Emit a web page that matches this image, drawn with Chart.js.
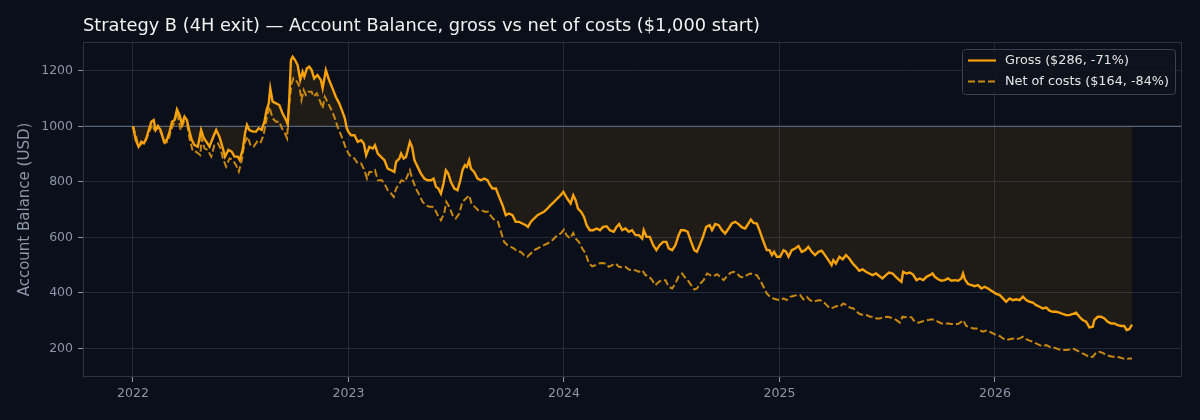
<!DOCTYPE html>
<html>
<head>
<meta charset="utf-8">
<script src="https://cdn.jsdelivr.net/npm/chart.js@4.4.1/dist/chart.umd.min.js"></script>
<style>
  html, body { margin: 0; padding: 0; background: #0b0f19; }
  #wrap { width: 1200px; height: 420px; }
</style>
</head>
<body>
<div id="wrap"><canvas id="myChart" width="1200" height="420"></canvas></div>
<script>
// values (x = decimal year)
var grossX = [2022.000,2022.013,2022.026,2022.039,2022.051,2022.062,2022.073,2022.085,2022.096,2022.105,2022.116,2022.128,2022.144,2022.157,2022.170,2022.181,2022.193,2022.204,2022.216,2022.227,2022.239,2022.250,2022.262,2022.273,2022.285,2022.301,2022.316,2022.329,2022.340,2022.355,2022.370,2022.386,2022.401,2022.417,2022.427,2022.443,2022.458,2022.471,2022.486,2022.495,2022.509,2022.520,2022.529,2022.540,2022.556,2022.571,2022.583,2022.597,2022.610,2022.620,2022.630,2022.637,2022.648,2022.664,2022.679,2022.694,2022.710,2022.718,2022.725,2022.733,2022.741,2022.752,2022.764,2022.776,2022.787,2022.795,2022.807,2022.818,2022.829,2022.841,2022.856,2022.872,2022.880,2022.895,2022.910,2022.926,2022.941,2022.957,2022.972,2022.983,2022.992,
  2023.000,2023.012,2023.028,2023.043,2023.059,2023.071,2023.082,2023.097,2023.113,2023.123,2023.136,2023.151,2023.167,2023.182,2023.198,2023.213,2023.221,2023.236,2023.244,2023.256,2023.267,2023.275,2023.285,2023.295,2023.306,2023.321,2023.336,2023.352,2023.367,2023.383,2023.395,2023.406,2023.417,2023.429,2023.441,2023.452,2023.463,2023.475,2023.491,2023.506,2023.519,2023.529,2023.540,2023.549,2023.560,2023.568,2023.583,2023.599,2023.614,2023.630,2023.645,2023.657,2023.668,2023.684,2023.699,2023.715,2023.730,2023.745,2023.761,2023.776,2023.792,2023.807,2023.823,2023.833,2023.846,2023.861,2023.877,2023.892,2023.907,2023.923,2023.938,2023.954,2023.969,2023.985,2023.997,
  2024.015,2024.031,2024.043,2024.054,2024.065,2024.080,2024.093,2024.105,2024.120,2024.136,2024.151,2024.167,2024.182,2024.198,2024.213,2024.231,2024.244,2024.256,2024.270,2024.285,2024.301,2024.316,2024.332,2024.347,2024.363,2024.370,2024.383,2024.398,2024.414,2024.429,2024.444,2024.460,2024.475,2024.486,2024.502,2024.517,2024.532,2024.543,2024.559,2024.574,2024.590,2024.605,2024.617,2024.630,2024.645,2024.660,2024.676,2024.687,2024.702,2024.718,2024.733,2024.748,2024.764,2024.779,2024.795,2024.810,2024.826,2024.841,2024.856,2024.867,2024.880,2024.895,2024.907,2024.918,2024.929,2024.941,2024.954,2024.965,2024.975,2024.988,
  2025.003,2025.019,2025.031,2025.042,2025.057,2025.073,2025.088,2025.103,2025.119,2025.134,2025.150,2025.165,2025.181,2025.196,2025.211,2025.227,2025.242,2025.250,2025.262,2025.278,2025.293,2025.309,2025.324,2025.340,2025.355,2025.370,2025.386,2025.401,2025.417,2025.432,2025.448,2025.463,2025.478,2025.494,2025.509,2025.525,2025.540,2025.556,2025.566,2025.574,2025.590,2025.605,2025.620,2025.636,2025.651,2025.667,2025.682,2025.698,2025.710,2025.721,2025.736,2025.752,2025.767,2025.782,2025.798,2025.813,2025.829,2025.844,2025.852,2025.860,2025.875,2025.891,2025.906,2025.921,2025.937,2025.952,2025.968,2025.978,2025.991,
  2026.006,2026.022,2026.037,2026.052,2026.068,2026.083,2026.099,2026.114,2026.130,2026.145,2026.160,2026.176,2026.191,2026.207,2026.222,2026.238,2026.253,2026.269,2026.284,2026.299,2026.315,2026.330,2026.346,2026.361,2026.377,2026.392,2026.407,2026.423,2026.438,2026.454,2026.461,2026.477,2026.492,2026.508,2026.523,2026.539,2026.554,2026.569,2026.585,2026.600,2026.611,2026.623,2026.636];
var grossY = [1000,950,927,945,939,957,987,1017,1023,987,1001,987,945,951,981,1017,1023,1061,1041,1008,1035,1023,981,951,933,927,987,957,945,927,957,987,963,921,891,915,909,891,891,879,915,975,1005,987,981,981,993,987,1017,1059,1083,1137,1089,1083,1077,1047,1023,1008,1095,1239,1251,1239,1221,1167,1197,1179,1209,1215,1203,1173,1185,1167,1137,1203,1167,1137,1107,1083,1053,1029,993,
  980,968,968,944,950,938,896,926,920,932,902,890,878,848,842,836,872,884,902,884,890,914,944,926,878,854,830,812,806,806,812,782,776,758,794,842,830,800,776,770,806,842,860,854,878,848,836,812,806,812,806,788,776,776,746,716,680,686,680,656,656,650,644,638,656,668,680,686,692,704,716,728,740,752,764,
  740,722,752,734,704,692,674,644,626,626,632,626,638,640,626,620,638,648,626,632,620,626,608,608,596,626,602,602,572,554,572,584,584,560,554,572,608,626,626,620,584,554,548,572,602,638,644,626,648,644,626,614,632,650,656,648,636,632,650,664,652,650,626,602,578,554,554,536,548,530,
  530,554,548,530,554,560,569,548,554,566,548,536,548,552,536,518,500,518,506,530,521,536,524,506,494,480,485,476,470,464,470,461,452,464,473,470,458,446,440,476,470,473,466,446,452,446,458,464,470,458,449,444,446,452,444,446,444,452,470,449,432,428,424,428,416,422,416,410,404,
  396,392,380,368,380,374,377,374,386,374,368,365,356,350,344,347,336,332,332,329,324,320,320,324,329,314,302,296,276,278,302,314,314,308,296,290,290,284,281,281,266,269,286];

var netX = [2022.000,2022.015,2022.026,2022.042,2022.057,2022.073,2022.088,2022.100,2022.116,2022.131,2022.147,2022.162,2022.177,2022.193,2022.205,2022.221,2022.236,2022.252,2022.262,2022.278,2022.293,2022.312,2022.319,2022.332,2022.347,2022.363,2022.378,2022.394,2022.406,2022.417,2022.432,2022.448,2022.463,2022.478,2022.491,2022.505,2022.517,2022.532,2022.545,2022.560,2022.576,2022.591,2022.606,2022.622,2022.633,2022.648,2022.664,2022.679,2022.691,2022.705,2022.715,2022.725,2022.736,2022.745,2022.761,2022.772,2022.782,2022.792,2022.802,2022.813,2022.829,2022.838,2022.853,2022.869,2022.880,2022.890,2022.906,2022.921,2022.934,2022.949,2022.965,2022.977,2022.988,
  2023.000,2023.012,2023.028,2023.043,2023.059,2023.074,2023.086,2023.097,2023.113,2023.123,2023.136,2023.154,2023.167,2023.182,2023.198,2023.210,2023.221,2023.236,2023.247,2023.262,2023.275,2023.285,2023.298,2023.313,2023.329,2023.344,2023.360,2023.375,2023.390,2023.403,2023.414,2023.429,2023.444,2023.454,2023.468,2023.483,2023.498,2023.514,2023.529,2023.545,2023.560,2023.571,2023.586,2023.602,2023.617,2023.633,2023.648,2023.664,2023.679,2023.694,2023.710,2023.722,2023.738,2023.753,2023.769,2023.784,2023.799,2023.815,2023.830,2023.846,2023.861,2023.877,2023.892,2023.907,2023.923,2023.938,2023.954,2023.969,2023.985,
  2024.000,2024.012,2024.028,2024.043,2024.054,2024.069,2024.085,2024.100,2024.116,2024.131,2024.147,2024.162,2024.177,2024.193,2024.208,2024.224,2024.239,2024.255,2024.270,2024.285,2024.301,2024.316,2024.332,2024.347,2024.363,2024.378,2024.394,2024.409,2024.424,2024.440,2024.455,2024.471,2024.486,2024.502,2024.517,2024.532,2024.548,2024.559,2024.574,2024.590,2024.605,2024.617,2024.633,2024.648,2024.664,2024.679,2024.694,2024.710,2024.725,2024.741,2024.756,2024.772,2024.787,2024.802,2024.818,2024.833,2024.849,2024.864,2024.880,2024.895,2024.910,2024.926,2024.941,2024.957,2024.972,2024.988,
  2025.003,2025.019,2025.034,2025.049,2025.065,2025.080,2025.096,2025.111,2025.127,2025.142,2025.157,2025.173,2025.188,2025.204,2025.219,2025.235,2025.250,2025.265,2025.281,2025.296,2025.312,2025.327,2025.343,2025.358,2025.373,2025.389,2025.404,2025.420,2025.435,2025.451,2025.466,2025.481,2025.497,2025.512,2025.528,2025.543,2025.559,2025.571,2025.582,2025.597,2025.613,2025.628,2025.644,2025.659,2025.674,2025.690,2025.705,2025.721,2025.736,2025.752,2025.767,2025.782,2025.798,2025.813,2025.829,2025.844,2025.852,2025.867,2025.883,2025.898,2025.914,2025.929,2025.944,2025.960,2025.975,2025.991,
  2026.006,2026.022,2026.037,2026.052,2026.068,2026.083,2026.099,2026.114,2026.130,2026.145,2026.160,2026.176,2026.191,2026.207,2026.222,2026.238,2026.253,2026.269,2026.284,2026.299,2026.315,2026.330,2026.346,2026.361,2026.377,2026.392,2026.407,2026.423,2026.438,2026.454,2026.469,2026.485,2026.500,2026.515,2026.531,2026.546,2026.562,2026.577,2026.593,2026.608,2026.623,2026.636];
var netY = [1000,963,927,939,945,975,1005,987,993,975,939,945,987,1017,1053,987,1017,1005,957,909,909,897,957,921,915,891,933,939,921,885,855,885,879,861,837,879,939,963,933,927,945,939,969,1035,1071,1029,1017,1017,993,975,957,1083,1155,1173,1161,1143,1095,1131,1113,1125,1125,1107,1119,1089,1065,1107,1083,1059,1035,999,969,945,921,
  902,890,884,866,866,842,812,836,836,842,806,806,794,770,758,746,776,794,806,800,824,842,806,776,752,728,716,710,710,698,680,662,686,728,710,680,668,686,728,740,752,722,710,698,698,692,692,674,662,656,614,584,572,566,560,548,548,536,530,542,554,560,566,572,578,584,596,608,614,
  628,608,596,616,596,584,560,542,506,496,500,506,508,506,494,500,506,494,492,494,484,482,482,476,482,464,460,446,428,440,446,446,422,416,434,460,470,458,446,428,412,416,434,446,470,464,460,467,458,446,460,472,476,470,458,456,464,470,467,464,446,422,398,386,380,376,
  374,380,374,386,389,392,392,377,386,374,368,372,374,368,356,344,347,353,350,362,356,347,344,332,324,320,320,314,314,308,308,312,314,312,308,302,293,314,312,314,312,296,293,296,300,302,305,302,296,290,290,290,288,288,288,296,302,281,276,272,272,266,260,264,260,254,
  248,245,236,230,233,236,233,236,242,233,228,224,218,212,208,212,206,204,200,196,194,194,196,200,194,188,182,176,168,170,184,188,184,176,173,170,170,168,164,161,164,164];

var yearTicks = [2022, 2023, 2024, 2025, 2026];
var balanceTicks = [200, 400, 600, 800, 1000, 1200];
var startBalance = 1000;
var titleText = "Strategy B (4H exit) \u2014 Account Balance, gross vs net of costs ($1,000 start)";
var legendLabels = ["Gross ($286, -71%)", "Net of costs ($164, -84%)"];

var BG = '#0b0f19';
var GROSS = '#f7a20b';
var NET = '#c98810';
var GRID = '#232a37';
var TICK = '#8c96a8';
var FONT = "'DejaVu Sans', sans-serif";

function pts(xs, ys) {
  return xs.map(function (x, i) { return { x: x, y: ys[i] }; });
}

// background, baseline, frame, title, y label and legend
var decor = {
  id: 'decor',
  beforeDraw: function (chart) {
    var c = chart.ctx;
    c.save();
    c.fillStyle = BG;
    c.fillRect(0, 0, chart.width, chart.height);
    c.restore();
  },
  beforeDatasetsDraw: function (chart) {
    var c = chart.ctx, a = chart.chartArea;
    var y = chart.scales.y.getPixelForValue(startBalance);
    c.save();
    c.strokeStyle = '#56647a';
    c.lineWidth = 1.4;
    c.beginPath();
    c.moveTo(a.left, y);
    c.lineTo(a.right, y);
    c.stroke();
    c.restore();
  },
  afterDraw: function (chart) {
    var c = chart.ctx, a = chart.chartArea;
    c.save();
    c.strokeStyle = '#2b3241';
    c.lineWidth = 1;
    c.strokeRect(a.left + 0.5, a.top + 0.5, a.right - a.left - 1, a.bottom - a.top - 1);

    c.fillStyle = '#f2f2f2';
    c.font = '17.8px ' + FONT;
    c.textBaseline = 'middle';
    c.textAlign = 'left';
    c.fillText(titleText, a.left, 26);

    c.save();
    c.translate(25, (a.top + a.bottom) / 2);
    c.rotate(-Math.PI / 2);
    c.textAlign = 'center';
    c.fillStyle = TICK;
    c.font = '15px ' + FONT;
    c.fillText('Account Balance (USD)', 0, 0);
    c.restore();

    // legend box, top right inside the plot
    var bx = 962, by = 49, bw = 213, bh = 45;
    c.fillStyle = 'rgba(14,19,30,0.85)';
    c.strokeStyle = '#3a4252';
    c.lineWidth = 1;
    c.beginPath();
    c.roundRect(bx + 0.5, by + 0.5, bw, bh, 3);
    c.fill();
    c.stroke();

    c.lineWidth = 2.2;
    c.strokeStyle = GROSS;
    c.beginPath();
    c.moveTo(968, 60.5); c.lineTo(996, 60.5);
    c.stroke();
    c.strokeStyle = NET;
    c.setLineDash([7, 3]);
    c.beginPath();
    c.moveTo(968, 81.5); c.lineTo(996, 81.5);
    c.stroke();
    c.setLineDash([]);

    c.fillStyle = '#e4e4e4';
    c.font = '12.8px ' + FONT;
    c.textAlign = 'left';
    c.fillText(legendLabels[0], 1005, 61);
    c.fillText(legendLabels[1], 1005, 82);
    c.restore();
  }
};

var config = {
  type: 'line',
  data: {
    datasets: [{
      label: 'Gross',
      data: pts(grossX, grossY),
      borderColor: GROSS,
      borderWidth: 2.4,
      pointRadius: 0,
      tension: 0,
      fill: { value: startBalance },
      backgroundColor: 'rgba(245,160,15,0.085)'
    }, {
      label: 'Net of costs',
      data: pts(netX, netY),
      borderColor: NET,
      borderWidth: 2,
      borderDash: [7, 3],
      pointRadius: 0,
      tension: 0,
      fill: false
    }]
  },
  options: {
    responsive: false,
    animation: false,
    events: [],
    layout: { padding: { top: 42, right: 18, left: 0, bottom: 0 } },
    plugins: {
      legend: { display: false },
      tooltip: { enabled: false },
      filler: { drawTime: 'beforeDatasetsDraw' }
    },
    scales: {
      x: {
        type: 'linear',
        min: 2021.768,
        max: 2026.868,
        afterBuildTicks: function (s) { s.ticks = yearTicks.map(function (v) { return { value: v }; }); },
        afterFit: function (s) { s.height = 43; },
        ticks: {
          color: TICK, font: { family: FONT, size: 12.5 }, padding: 4, maxRotation: 0,
          callback: function (v) { return String(v); }
        },
        grid: { color: GRID, lineWidth: 1, tickColor: TICK, tickLength: 5 },
        border: { display: false }
      },
      y: {
        min: 97,
        max: 1304,
        afterBuildTicks: function (s) { s.ticks = balanceTicks.map(function (v) { return { value: v }; }); },
        afterFit: function (s) { s.width = 83; },
        ticks: {
          color: TICK, font: { family: FONT, size: 12.5 }, padding: 5,
          callback: function (v) { return String(v); }
        },
        grid: { color: GRID, lineWidth: 1, tickColor: TICK, tickLength: 5 },
        border: { display: false }
      }
    }
  },
  plugins: [decor]
};

var myChart = new Chart(document.getElementById('myChart').getContext('2d'), config);
</script>
</body>
</html>
